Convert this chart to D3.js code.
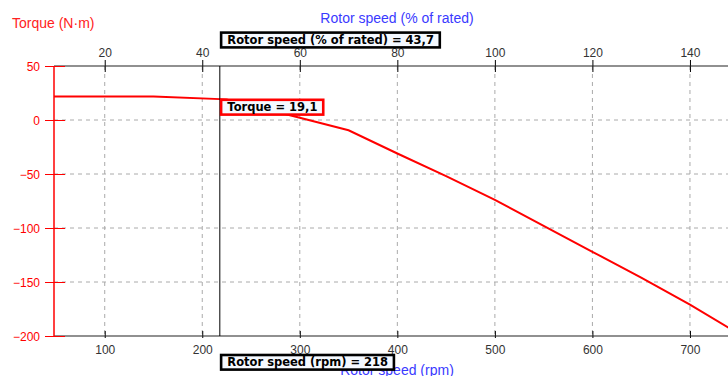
<!DOCTYPE html>
<html><head><meta charset="utf-8">
<script src="https://cdn.jsdelivr.net/npm/d3@7"></script>
<style>body{margin:0;background:#fff}svg{display:block}</style>
</head><body><svg id="c" width="728" height="376"></svg>
<script>
const rpm = [48, 150, 225, 300, 350, 400, 450, 500, 550, 600, 650, 700, 750];
const torque = [21.7, 21.7, 19.1, 2, -9.5, -31, -52, -74, -98, -122, -146, -171, -198];
const rpmTicks = [100, 200, 300, 400, 500, 600, 700];
const pctTicks = [20, 40, 60, 80, 100, 120, 140];
const torqueTicks = [50, 0, -50, -100, -150, -200];
const gridTorque = [0, -50, -100, -150];
const ratedRpm = 500;
const cursorRpm = 218;
const cursorPct = "43,7";
const cursorTorque = "19,1";

const svg = d3.select("#c");
const L = 54, R = 728, T = 66, B = 336;
const x = d3.scaleLinear().domain([48, 739]).range([L, R]);
const xp = d3.scaleLinear().domain([48 / ratedRpm * 100, 739 / ratedRpm * 100]).range([L, R]);
const y = d3.scaleLinear().domain([50, -200]).range([T, B]);

const g = svg.append("g");
g.selectAll(".vg").data(rpmTicks).join("line")
  .attr("x1", d => x(d)).attr("x2", d => x(d)).attr("y1", T).attr("y2", B)
  .attr("stroke", "#aaa").attr("stroke-dasharray", "4,4");
g.selectAll(".hg").data(gridTorque).join("line")
  .attr("x1", L).attr("x2", R).attr("y1", d => y(d)).attr("y2", d => y(d))
  .attr("stroke", "#aaa").attr("stroke-dasharray", "4,4");

const tickFont = "'Liberation Sans', Arial, sans-serif";
// bottom axis
const xb = d3.axisBottom(x).tickValues(rpmTicks).tickSize(0).tickPadding(0);
const gb = svg.append("g").attr("transform", `translate(0,${B})`).call(xb);
gb.select(".domain").remove();
gb.selectAll(".tick line").remove();
gb.selectAll(".tick").append("line").attr("y1", -5).attr("y2", 2).attr("stroke", "#000");
gb.selectAll(".tick text").attr("y", 18).attr("dy", 0).attr("fill", "#333")
  .style("font", `12px ${tickFont}`);
svg.append("line").attr("x1", L).attr("x2", R).attr("y1", B).attr("y2", B).attr("stroke", "#222").attr("stroke-width", 1.2);

// top axis
const xt = d3.axisTop(xp).tickValues(pctTicks).tickSize(0).tickPadding(0);
const gt = svg.append("g").attr("transform", `translate(0,${T})`).call(xt);
gt.select(".domain").remove();
gt.selectAll(".tick line").remove();
gt.selectAll(".tick").append("line").attr("y1", -6).attr("y2", 6).attr("stroke", "#000");
gt.selectAll(".tick text").attr("y", -9.3).attr("dy", 0).attr("fill", "#333")
  .style("font", `12px ${tickFont}`);
svg.append("line").attr("x1", L).attr("x2", R).attr("y1", T).attr("y2", T).attr("stroke", "#222").attr("stroke-width", 1.2);

// left axis
const yl = d3.axisLeft(y).tickValues(torqueTicks).tickSize(0).tickPadding(0);
const gl = svg.append("g").attr("transform", `translate(${L},0)`).call(yl);
gl.select(".domain").remove();
gl.selectAll(".tick line").remove();
gl.selectAll(".tick").append("line").attr("x1", -9).attr("x2", 11).attr("stroke", "#f00");
gl.selectAll(".tick text").attr("x", -14).attr("dy", "0.35em").attr("fill", "#f00")
  .style("font", `12px ${tickFont}`);
svg.append("line").attr("x1", L).attr("x2", L).attr("y1", T).attr("y2", B).attr("stroke", "#f00").attr("stroke-width", 1.5);

// titles
const titleFont = "'Liberation Sans', Arial, sans-serif";
svg.append("text").attr("x", 12).attr("y", 28).attr("fill", "#f22").style("font", `14px ${titleFont}`).text("Torque (N·m)");
svg.append("text").attr("x", 397).attr("y", 23).attr("text-anchor", "middle").attr("fill", "#3a3aff").style("font", `14px ${titleFont}`).text("Rotor speed (% of rated)");
svg.append("text").attr("x", 397).attr("y", 375).attr("text-anchor", "middle").attr("fill", "#3a3aff").style("font", `14px ${titleFont}`).text("Rotor speed (rpm)");

// curve
svg.append("clipPath").attr("id", "clip").append("rect").attr("x", L).attr("y", T).attr("width", R - L).attr("height", B - T);
const line = d3.line().x((d, i) => x(rpm[i])).y(d => y(d));
svg.append("path").datum(torque).attr("d", line).attr("fill", "none")
  .attr("stroke", "#f00").attr("stroke-width", 2).attr("clip-path", "url(#clip)");

// cursor
const cx = x(cursorRpm);
svg.append("line").attr("x1", cx).attr("x2", cx).attr("y1", T).attr("y2", B).attr("stroke", "#000").attr("stroke-width", 1);

function box(xx, yy, h, txt, col) {
  const sw = 2.6;
  const t = svg.append("text").attr("x", xx + 7.5).attr("y", yy + 12.6)
    .style("font", "bold 11.5px 'DejaVu Sans', Verdana, sans-serif").attr("fill", "#000").text(txt);
  const bb = t.node().getBBox();
  svg.insert("rect", () => t.node()).attr("x", xx + sw / 2).attr("y", yy + sw / 2).attr("width", bb.width + 12).attr("height", h - sw)
    .attr("fill", "#f5f9ff").attr("stroke", col).attr("stroke-width", sw);
}
box(cx, 31.3, 17.4, `Rotor speed (% of rated) = ${cursorPct}`, "#000");
box(cx, 353.7, 17.2, `Rotor speed (rpm) = ${cursorRpm}`, "#000");
box(cx, 98.5, 17.4, `Torque = ${cursorTorque}`, "#f00");
</script></body></html>
